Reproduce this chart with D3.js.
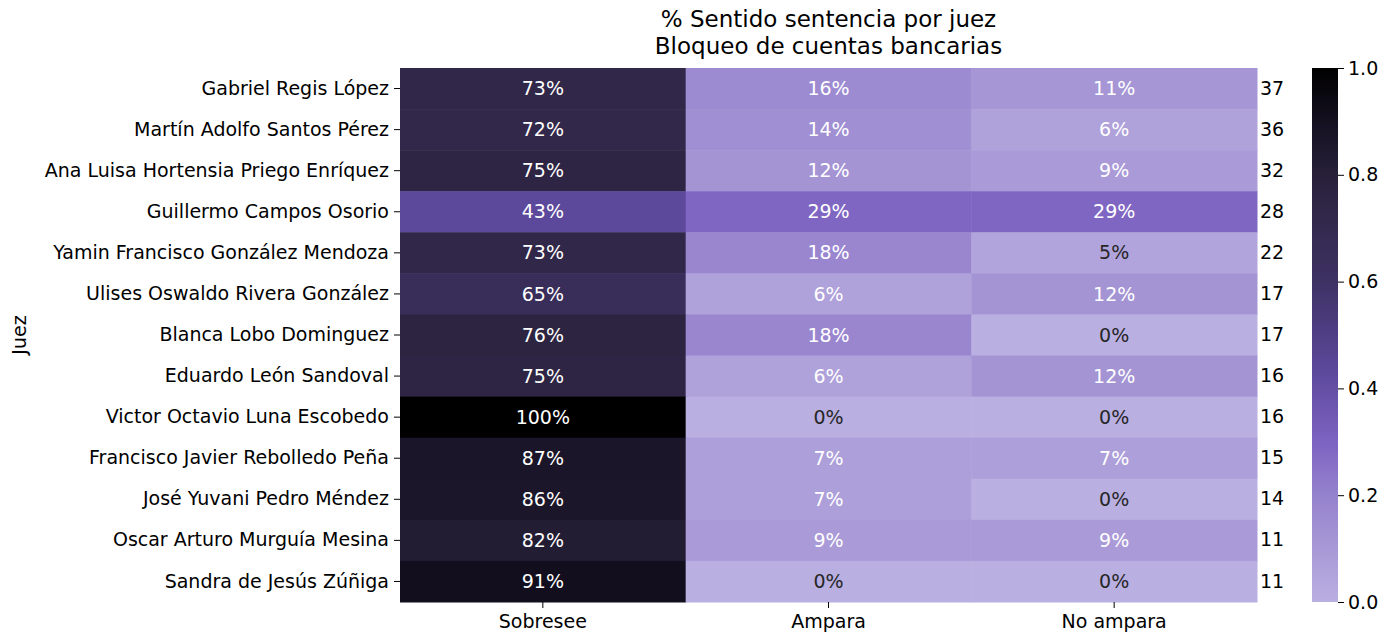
<!DOCTYPE html>
<html>
<head>
<meta charset="utf-8">
<script src="https://cdn.jsdelivr.net/npm/d3@7"></script>
<style>
  body { margin: 0; background: #fff; }
  text { font-family: "DejaVu Sans", sans-serif; }
  .domain { display: none; }
</style>
</head>
<body>
<script>
var width = 1395,
    height = 636;

var margin = {top: 68, left: 400},
    graphWidth = 857,
    graphHeight = 534;

var fontSize = 19;

// data (percent per judge and total cases)
var judges = ["Gabriel Regis López", "Martín Adolfo Santos Pérez", "Ana Luisa Hortensia Priego Enríquez",
  "Guillermo Campos Osorio", "Yamin Francisco González Mendoza", "Ulises Oswaldo Rivera González",
  "Blanca Lobo Dominguez", "Eduardo León Sandoval", "Victor Octavio Luna Escobedo",
  "Francisco Javier Rebolledo Peña", "José Yuvani Pedro Méndez", "Oscar Arturo Murguía Mesina",
  "Sandra de Jesús Zúñiga"];
var categories = ["Sobresee", "Ampara", "No ampara"];
var sobresee = [73, 72, 75, 43, 73, 65, 76, 75, 100, 87, 86, 82, 91];
var ampara = [16, 14, 12, 29, 18, 6, 18, 6, 0, 7, 7, 9, 0];
var noAmpara = [11, 6, 9, 29, 5, 12, 0, 12, 0, 7, 0, 9, 0];
var totals = [37, 36, 32, 28, 22, 17, 17, 16, 16, 15, 14, 11, 11];
var colorTicks = [0, 0.2, 0.4, 0.6, 0.8, 1.0];

var series = [sobresee, ampara, noAmpara];
var cells = [];
judges.forEach(function(j, i) {
  categories.forEach(function(c, k) {
    cells.push({juez: j, cat: c, value: series[k][i] / 100});
  });
});

// colour map: light lavender -> purple -> black
var color = d3.scaleLinear()
  .domain([0, 0.1, 0.2, 0.3, 0.43, 0.6, 0.73, 0.8, 0.9, 1.0])
  .range(["#b9afe1", "#a898d6", "#9582cd", "#7d63c2", "#5d499c", "#3e3164", "#312748", "#272039", "#141020", "#000000"])
  .interpolate(d3.interpolateRgb)
  .clamp(true);

function luminance(c) {
  var rgb = d3.rgb(c);
  var lin = [rgb.r, rgb.g, rgb.b].map(function(v) {
    v = v / 255;
    return v <= 0.03928 ? v / 12.92 : Math.pow((v + 0.055) / 1.055, 2.4);
  });
  return 0.2126 * lin[0] + 0.7152 * lin[1] + 0.0722 * lin[2];
}

var svg = d3.select("body").append("svg")
  .attr("width", width)
  .attr("height", height)
  .attr("id", "canvas");

var g = svg.append("g")
  .attr("transform", "translate(" + margin.left + "," + margin.top + ")");

var xScale = d3.scaleBand().domain(categories).range([0, graphWidth]);
var yScale = d3.scaleBand().domain(judges).range([0, graphHeight]);

g.selectAll("rect.cell")
  .data(cells)
  .enter().append("rect")
  .attr("class", "cell")
  .attr("x", function(d) { return xScale(d.cat); })
  .attr("y", function(d) { return yScale(d.juez); })
  .attr("width", xScale.bandwidth() + 0.5)
  .attr("height", yScale.bandwidth() + 0.5)
  .attr("fill", function(d) { return color(d.value); });

g.selectAll("text.annot")
  .data(cells)
  .enter().append("text")
  .attr("class", "annot")
  .attr("x", function(d) { return xScale(d.cat) + xScale.bandwidth() / 2; })
  .attr("y", function(d) { return yScale(d.juez) + yScale.bandwidth() / 2; })
  .attr("dy", "0.35em")
  .attr("text-anchor", "middle")
  .attr("font-size", fontSize)
  .attr("fill", function(d) { return luminance(color(d.value)) > 0.408 ? "#262626" : "#ffffff"; })
  .text(function(d) { return Math.round(d.value * 100) + "%"; });

//axes
var yAxis = g.append("g")
  .call(d3.axisLeft(yScale).tickSize(6).tickPadding(5));
var xAxis = g.append("g")
  .attr("transform", "translate(0," + graphHeight + ")")
  .call(d3.axisBottom(xScale).tickSize(6).tickPadding(7));
[yAxis, xAxis].forEach(function(a) {
  a.selectAll("text").attr("font-size", fontSize).attr("fill", "#000").attr("font-family", "DejaVu Sans");
  a.selectAll("line").attr("stroke", "#000");
});

// totals on the right
var totalScale = d3.scaleBand().domain(d3.range(judges.length)).range([0, graphHeight]);
var tAxis = g.append("g")
  .attr("transform", "translate(" + graphWidth + ",0)")
  .call(d3.axisRight(totalScale).tickSize(0).tickPadding(3).tickFormat(function(i) { return totals[i]; }));
tAxis.selectAll("text").attr("font-size", fontSize).attr("fill", "#000").attr("font-family", "DejaVu Sans");

//axis label
svg.append("text")
  .attr("transform", "translate(26," + (margin.top + graphHeight / 2) + ") rotate(-90)")
  .attr("text-anchor", "middle")
  .attr("font-size", fontSize)
  .text("Juez");

//title
var title = svg.append("text")
  .attr("text-anchor", "middle")
  .attr("font-size", 23)
  .attr("fill", "#000");
title.append("tspan").attr("x", margin.left + graphWidth / 2).attr("y", 27).text("% Sentido sentencia por juez");
title.append("tspan").attr("x", margin.left + graphWidth / 2).attr("y", 54).text("Bloqueo de cuentas bancarias");

// colorbar
var cbX = 1312, cbW = 26;
var cScale = d3.scaleLinear().domain([0, 1]).range([graphHeight, 0]);
var defs = svg.append("defs");
var grad = defs.append("linearGradient")
  .attr("id", "cbar")
  .attr("x1", 0).attr("y1", 1).attr("x2", 0).attr("y2", 0);
grad.selectAll("stop")
  .data(d3.range(0, 1.0001, 0.02))
  .enter().append("stop")
  .attr("offset", function(d) { return d; })
  .attr("stop-color", function(d) { return color(d); });

var cb = svg.append("g").attr("transform", "translate(" + cbX + "," + margin.top + ")");
cb.append("rect")
  .attr("width", cbW)
  .attr("height", graphHeight)
  .attr("fill", "url(#cbar)");
var cAxis = cb.append("g")
  .attr("transform", "translate(" + cbW + ",0)")
  .call(d3.axisRight(cScale).tickValues(colorTicks).tickSize(6).tickPadding(4).tickFormat(d3.format(".1f")));
cAxis.selectAll("text").attr("font-size", fontSize).attr("fill", "#000").attr("font-family", "DejaVu Sans");
cAxis.selectAll("line").attr("stroke", "#000");
</script>
</body>
</html>
